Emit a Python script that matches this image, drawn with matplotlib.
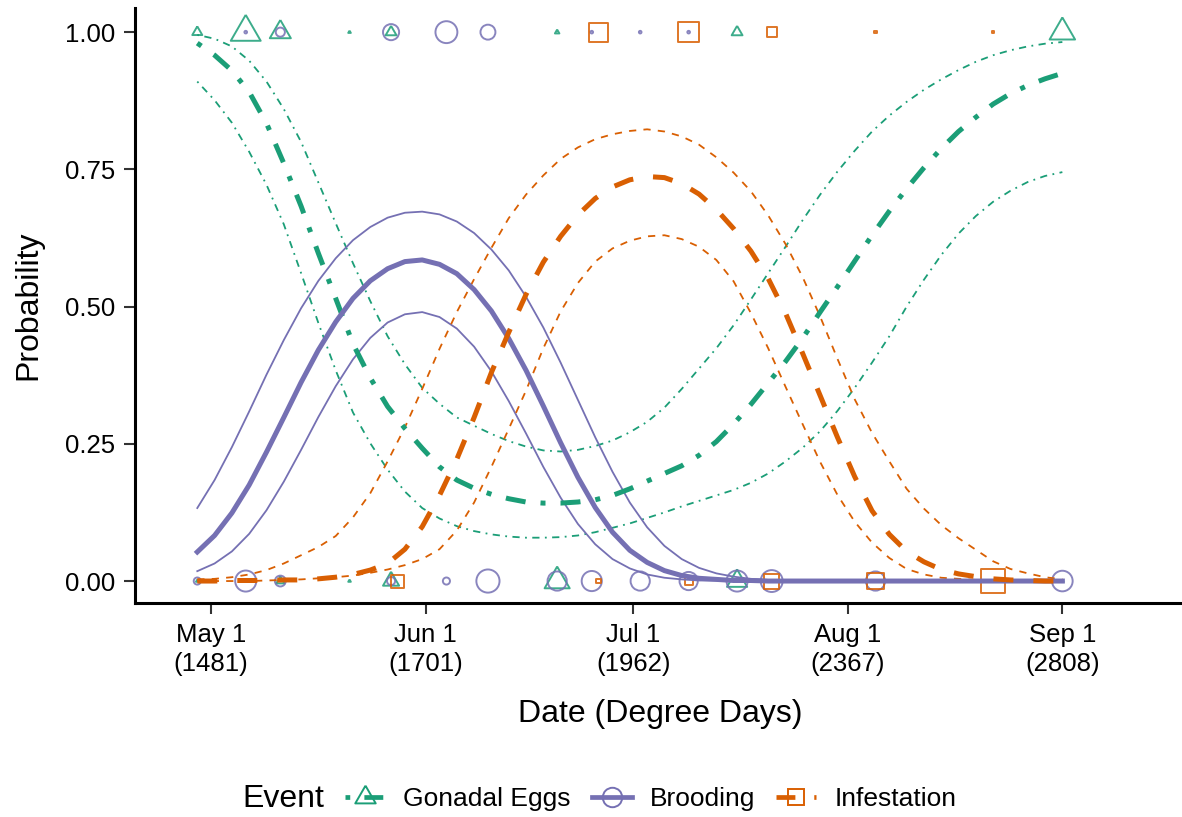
import numpy as np
import matplotlib
matplotlib.use("Agg")
import matplotlib.pyplot as plt
from matplotlib.lines import Line2D

plt.rcParams["font.family"] = ["Liberation Sans", "DejaVu Sans"]

GREEN, PURPLE, ORANGE = "#1B9E77", "#7570B3", "#D95F02"

# x axis is day of year; labels also give degree days
tick_days = [121, 152, 182, 213, 244]
tick_labels = ["May 1\n(1481)", "Jun 1\n(1701)", "Jul 1\n(1962)",
               "Aug 1\n(2367)", "Sep 1\n(2808)"]
y_ticks = [0, 0.25, 0.5, 0.75, 1.0]

curve_days = np.arange(119, 244.1, 2.5)

eggs_fit = [0.980, 0.958, 0.930, 0.891, 0.834, 0.761, 0.683, 0.597, 0.515, 0.432,
            0.370, 0.318, 0.278, 0.242, 0.208, 0.184, 0.169, 0.158, 0.150, 0.144,
            0.142, 0.142, 0.144, 0.148, 0.156, 0.168, 0.182, 0.196, 0.210, 0.229,
            0.254, 0.286, 0.322, 0.361, 0.400, 0.443, 0.490, 0.536, 0.583, 0.630,
            0.674, 0.715, 0.753, 0.788, 0.819, 0.845, 0.869, 0.888, 0.903, 0.915,
            0.925]
eggs_hi = [0.995, 0.988, 0.974, 0.948, 0.910, 0.860, 0.800, 0.726, 0.652, 0.579,
           0.510, 0.446, 0.395, 0.352, 0.323, 0.298, 0.283, 0.268, 0.255, 0.245,
           0.238, 0.236, 0.239, 0.246, 0.256, 0.271, 0.290, 0.316, 0.350, 0.387,
           0.424, 0.466, 0.513, 0.561, 0.609, 0.658, 0.704, 0.746, 0.784, 0.819,
           0.848, 0.873, 0.895, 0.914, 0.931, 0.946, 0.958, 0.967, 0.974, 0.979,
           0.982]
eggs_lo = [0.910, 0.876, 0.835, 0.782, 0.722, 0.650, 0.561, 0.470, 0.384, 0.307,
           0.251, 0.203, 0.163, 0.133, 0.114, 0.100, 0.091, 0.085, 0.081, 0.079,
           0.079, 0.080, 0.083, 0.089, 0.097, 0.105, 0.115, 0.125, 0.136, 0.146,
           0.156, 0.166, 0.179, 0.196, 0.218, 0.243, 0.273, 0.310, 0.352, 0.398,
           0.446, 0.500, 0.549, 0.594, 0.633, 0.665, 0.691, 0.711, 0.727, 0.738,
           0.745]

brood_fit = [0.053, 0.083, 0.124, 0.175, 0.235, 0.298, 0.362, 0.421, 0.472, 0.515,
             0.547, 0.569, 0.582, 0.585, 0.577, 0.560, 0.531, 0.492, 0.442, 0.384,
             0.319, 0.252, 0.189, 0.134, 0.089, 0.056, 0.034, 0.019, 0.010, 0.005,
             0.003, 0.001, 0.001, 0.000, 0.000, 0.000, 0.000, 0.000, 0.000, 0.000,
             0.000, 0.000, 0.000, 0.000, 0.000, 0.000, 0.000, 0.000, 0.000, 0.000,
             0.000]
brood_hi = [0.133, 0.184, 0.244, 0.309, 0.376, 0.439, 0.497, 0.547, 0.588, 0.621,
            0.645, 0.662, 0.671, 0.673, 0.668, 0.655, 0.634, 0.604, 0.566, 0.518,
            0.462, 0.398, 0.330, 0.262, 0.199, 0.143, 0.098, 0.064, 0.040, 0.024,
            0.014, 0.008, 0.004, 0.002, 0.001, 0.000, 0.000, 0.000, 0.000, 0.000,
            0.000, 0.000, 0.000, 0.000, 0.000, 0.000, 0.000, 0.000, 0.000, 0.000,
            0.000]
brood_lo = [0.018, 0.032, 0.054, 0.086, 0.129, 0.181, 0.239, 0.299, 0.355, 0.404,
            0.443, 0.471, 0.486, 0.490, 0.481, 0.460, 0.427, 0.382, 0.328, 0.269,
            0.208, 0.152, 0.104, 0.067, 0.040, 0.023, 0.012, 0.006, 0.003, 0.001,
            0.001, 0.000, 0.000, 0.000, 0.000, 0.000, 0.000, 0.000, 0.000, 0.000,
            0.000, 0.000, 0.000, 0.000, 0.000, 0.000, 0.000, 0.000, 0.000, 0.000,
            0.000]

infest_fit = [0.000, 0.000, 0.001, 0.001, 0.001, 0.002, 0.002, 0.004, 0.007, 0.012,
              0.020, 0.032, 0.058, 0.099, 0.156, 0.222, 0.298, 0.380, 0.453, 0.522,
              0.581, 0.628, 0.667, 0.697, 0.718, 0.731, 0.737, 0.735, 0.724, 0.705,
              0.677, 0.642, 0.601, 0.551, 0.488, 0.414, 0.338, 0.262, 0.190, 0.128,
              0.085, 0.054, 0.035, 0.021, 0.013, 0.008, 0.004, 0.002, 0.001, 0.000,
              0.000]
infest_hi = [0.003, 0.004, 0.007, 0.012, 0.020, 0.032, 0.047, 0.062, 0.082, 0.116,
             0.160, 0.218, 0.280, 0.350, 0.423, 0.490, 0.550, 0.607, 0.661, 0.704,
             0.739, 0.769, 0.790, 0.805, 0.814, 0.820, 0.823, 0.819, 0.810, 0.795,
             0.772, 0.744, 0.710, 0.666, 0.614, 0.553, 0.482, 0.405, 0.331, 0.270,
             0.218, 0.168, 0.132, 0.102, 0.078, 0.057, 0.036, 0.022, 0.014, 0.007,
             0.003]
infest_lo = [0.000, 0.000, 0.000, 0.000, 0.001, 0.002, 0.003, 0.005, 0.007, 0.010,
             0.015, 0.021, 0.029, 0.040, 0.058, 0.092, 0.143, 0.208, 0.277, 0.347,
             0.424, 0.491, 0.543, 0.582, 0.606, 0.620, 0.628, 0.630, 0.623, 0.609,
             0.585, 0.546, 0.488, 0.424, 0.354, 0.285, 0.217, 0.157, 0.108, 0.070,
             0.042, 0.022, 0.012, 0.006, 0.004, 0.002, 0.001, 0.000, 0.000, 0.000,
             0.000]

# raw observations: sampling day and number of animals at 1 (present) / 0 (absent)
eggs_days_1 = [119, 126, 131, 141, 147, 171, 197, 244]
eggs_n_1 = [7, 50, 26, 1, 8, 2, 8, 37]
eggs_days_0 = [119, 131, 141, 147, 171, 197, 244]
eggs_n_0 = [1, 5, 1, 16, 36, 24, 1]

brood_days_1 = [126, 131, 147, 155, 161, 176, 183, 190]
brood_n_1 = [1, 6, 16, 28, 14, 1, 1, 1]
brood_days_0 = [119, 126, 131, 147, 155, 161, 171, 176, 183, 190, 197, 202, 217, 244]
brood_n_0 = [4, 26, 8, 5, 4, 31, 22, 24, 22, 20, 26, 28, 22, 25]

infest_days_1 = [177, 190, 202, 217, 234]
infest_n_1 = [22, 25, 7, 1, 1]
infest_days_0 = [148, 177, 190, 202, 217, 234]
infest_n_0 = [11, 2, 5, 14, 16, 33]

TRI = [(0, 1), (-0.866, -0.5), (0.866, -0.5), (0, 1)]
DOTDASH = (0, (1, 3, 4, 3))
DASHED = (0, (4, 4))


def marker_pt(n, tri=False):
    d = max(4.5 * np.sqrt(n) - 1.9, 2.0)
    if tri:
        d = d / 0.866
    return d * 72 / 100


fig = plt.figure(figsize=(11.82, 8.17), dpi=100)
ax = fig.add_axes([135 / 1182, 1 - 603 / 817, 1045 / 1182, 595 / 817])

points = [
    (eggs_days_1, eggs_n_1, 1, GREEN, TRI, True),
    (eggs_days_0, eggs_n_0, 0, GREEN, TRI, True),
    (brood_days_1, brood_n_1, 1, PURPLE, "o", False),
    (brood_days_0, brood_n_0, 0, PURPLE, "o", False),
    (infest_days_1, infest_n_1, 1, ORANGE, "s", False),
    (infest_days_0, infest_n_0, 0, ORANGE, "s", False),
]
for days, ns, yv, col, mk, tri in points:
    s = [marker_pt(k, tri) ** 2 for k in ns]
    ax.scatter(days, [yv] * len(days), s=s, marker=mk, facecolors="none",
               edgecolors=col, linewidths=1.4, alpha=0.85, zorder=2)

for fit, lo, hi, col, ls in [
    (eggs_fit, eggs_lo, eggs_hi, GREEN, DOTDASH),
    (brood_fit, brood_lo, brood_hi, PURPLE, "-"),
    (infest_fit, infest_lo, infest_hi, ORANGE, DASHED),
]:
    ax.plot(curve_days, hi, color=col, lw=1.3, ls=ls, zorder=3)
    ax.plot(curve_days, lo, color=col, lw=1.3, ls=ls, zorder=3)
    ax.plot(curve_days, fit, color=col, lw=3.6, ls=ls, zorder=4)

ax.set_xlim(110.0, 261.0)
ax.set_ylim(-0.040, 1.044)
ax.set_xticks(tick_days)
ax.set_xticklabels(tick_labels, linespacing=1.25)
ax.set_yticks(y_ticks)
ax.set_yticklabels([f"{v:.2f}" for v in y_ticks])
ax.tick_params(length=8, width=1.5, color="#333333", labelsize=18.5, pad=6.5,
               labelcolor="black")
for side in ["top", "right"]:
    ax.spines[side].set_visible(False)
for side in ["left", "bottom"]:
    ax.spines[side].set_linewidth(2.2)

fig.text(28 / 1182, 1 - 305 / 817, "Probability", rotation=90,
         ha="center", va="center", fontsize=23)
fig.text(660 / 1182, 1 - 714 / 817, "Date (Degree Days)",
         ha="center", va="center", fontsize=23)

handles = [
    Line2D([], [], color=GREEN, lw=3.4, ls=DOTDASH, marker=TRI, ms=17,
           mfc="none", mew=1.4),
    Line2D([], [], color=PURPLE, lw=3.4, ls="-", marker="o", ms=14,
           mfc="none", mew=1.4),
    Line2D([], [], color=ORANGE, lw=3.4, ls=DASHED, marker="s", ms=12,
           mfc="none", mew=1.4),
]
fig.legend(handles, ["Gonadal Eggs", "Brooding", "Infestation"],
           loc="center left", bbox_to_anchor=(345 / 1182, 1 - 799 / 817),
           ncol=3, frameon=False, fontsize=19, handlelength=1.52,
           handletextpad=0.68, columnspacing=0.8, borderpad=0, borderaxespad=0)
fig.text(242 / 1182, 1 - 799 / 817, "Event", fontsize=23, ha="left", va="center")

fig.savefig("out.png", dpi=100)
